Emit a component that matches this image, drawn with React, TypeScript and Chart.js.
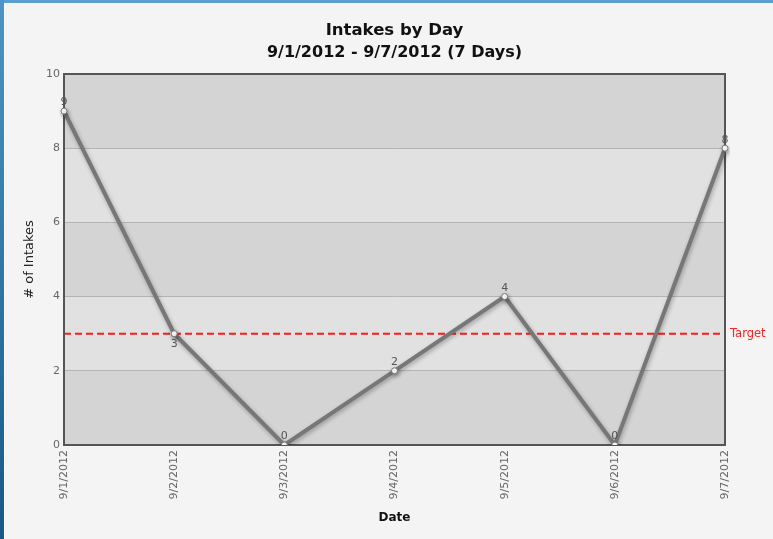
import React, { useEffect, useRef } from "react";
import { Chart, registerables } from "chart.js";

Chart.register(...registerables);

const days = ["9/1/2012", "9/2/2012", "9/3/2012", "9/4/2012", "9/5/2012", "9/6/2012", "9/7/2012"];
const intakes = [9, 3, 0, 2, 4, 0, 8];
const targetValue = 3;
const targetLabel = "Target";
const titleText = "Intakes by Day";
const subtitleText = "9/1/2012 - 9/7/2012 (7 Days)";
const yTitle = "# of Intakes";
const xTitle = "Date";

const FONT = "'DejaVu Sans', Verdana, sans-serif";

const decorPlugin = {
  id: "decor",
  beforeDraw(chart: any) {
    const { ctx, chartArea: a, scales } = chart;
    const y = scales.y;
    const ticks = y.ticks;
    ctx.save();
    for (let i = 0; i < ticks.length - 1; i++) {
      const top = y.getPixelForValue(ticks[i + 1].value);
      const bottom = y.getPixelForValue(ticks[i].value);
      ctx.fillStyle = i % 2 === 0 ? "#d4d4d4" : "#e1e1e1";
      ctx.fillRect(a.left, top, a.right - a.left, bottom - top);
    }
    ctx.restore();
  },
  beforeDatasetsDraw(chart: any) {
    const { ctx, chartArea: a, scales } = chart;
    const ty = scales.y.getPixelForValue(targetValue);
    ctx.save();
    ctx.strokeStyle = "#ff1a1a";
    ctx.lineWidth = 2;
    ctx.setLineDash([7, 4]);
    ctx.beginPath();
    ctx.moveTo(a.left, ty);
    ctx.lineTo(a.right, ty);
    ctx.stroke();
    ctx.setLineDash([]);
    ctx.strokeStyle = "#555555";
    ctx.lineWidth = 2;
    ctx.strokeRect(a.left, a.top, a.right - a.left, a.bottom - a.top);
    ctx.restore();
  },
  beforeDatasetDraw(chart: any) {
    const ctx = chart.ctx;
    ctx.save();
    ctx.shadowColor = "rgba(0,0,0,0.3)";
    ctx.shadowBlur = 4;
    ctx.shadowOffsetX = 1;
    ctx.shadowOffsetY = 2;
  },
  afterDatasetDraw(chart: any) {
    chart.ctx.restore();
  },
  afterDatasetsDraw(chart: any) {
    const { ctx, chartArea: a, scales } = chart;
    const meta = chart.getDatasetMeta(0);
    ctx.save();
    ctx.font = `11px ${FONT}`;
    ctx.fillStyle = "#555555";
    ctx.textAlign = "center";
    meta.data.forEach((pt: any, i: number) => {
      const v = intakes[i];
      if (v === targetValue) {
        ctx.textBaseline = "top";
        ctx.fillText(String(v), pt.x, pt.y + 5);
      } else {
        ctx.textBaseline = "bottom";
        ctx.fillText(String(v), pt.x, pt.y - 3);
      }
    });
    const ty = scales.y.getPixelForValue(targetValue);
    ctx.font = `11.5px ${FONT}`;
    ctx.fillStyle = "#ff2020";
    ctx.textAlign = "left";
    ctx.textBaseline = "middle";
    ctx.fillText(targetLabel, a.right + 5, ty);
    ctx.restore();
  },
};

export default function App() {
  const ref = useRef<HTMLCanvasElement | null>(null);
  useEffect(() => {
    if (!ref.current) return;
    const chart = new Chart(ref.current, {
      type: "line",
      data: {
        labels: days,
        datasets: [
          {
            data: intakes,
            borderColor: "#777777",
            borderWidth: 4,
            pointRadius: 3,
            pointBackgroundColor: "#ffffff",
            pointBorderColor: "#777777",
            pointBorderWidth: 1,
            tension: 0,
          },
        ],
      },
      options: {
        responsive: false,
        animation: false,
        layout: { padding: { left: 0, right: 48, top: 0, bottom: 0 } },
        plugins: {
          legend: { display: false },
          tooltip: { enabled: false },
          title: {
            display: true,
            fullSize: false,
            text: titleText,
            color: "#111111",
            font: { family: FONT, size: 16.5, weight: "bold", lineHeight: 1.2 },
            padding: { top: 21, bottom: 2.6 },
          },
          subtitle: {
            display: true,
            fullSize: false,
            text: subtitleText,
            color: "#111111",
            font: { family: FONT, size: 16, weight: "bold", lineHeight: 1.2 },
            padding: { top: 0, bottom: 11.4 },
          },
        },
        scales: {
          x: {
            type: "category",
            offset: false,
            grid: { display: false, drawTicks: false },
            border: { display: false },
            ticks: {
              color: "#666666",
              font: { family: FONT, size: 11 },
              minRotation: 90,
              maxRotation: 90,
              padding: 5,
              autoSkip: false,
            },
            title: {
              display: true,
              text: xTitle,
              color: "#111111",
              font: { family: FONT, size: 12, weight: "bold" },
              padding: { top: 4, bottom: 14 },
            },
            afterFit(scale: any) {
              scale.height = 94;
            },
          },
          y: {
            min: 0,
            max: 10,
            grid: { color: "#b4b4b4", lineWidth: 1, drawTicks: false },
            border: { display: false },
            ticks: {
              stepSize: 2,
              color: "#666666",
              font: { family: FONT, size: 11 },
              padding: 4,
            },
            title: {
              display: true,
              text: yTitle,
              color: "#222222",
              font: { family: FONT, size: 13 },
              padding: { top: 22, bottom: 0 },
            },
            afterFit(scale: any) {
              scale.width = 64;
            },
          },
        },
      },
      plugins: [decorPlugin],
    } as any);
    return () => chart.destroy();
  }, []);

  return (
    <div style={{ position: "absolute", left: 0, top: 0, width: 773, height: 539, background: "#f4f4f4", overflow: "hidden" }}>
      <div style={{ position: "absolute", left: 0, top: 0, width: 773, height: 3, background: "#5a9fcf" }} />
      <div style={{ position: "absolute", left: 0, top: 0, width: 4, height: 539, background: "linear-gradient(#4a95c9, #15598a)" }} />
      <div style={{ position: "absolute", left: 4, top: 3, width: 1, height: 536, background: "#fafafa" }} />
      <canvas ref={ref} width={773} height={539} style={{ position: "absolute", left: 0, top: 0, display: "block" }} />
    </div>
  );
}
